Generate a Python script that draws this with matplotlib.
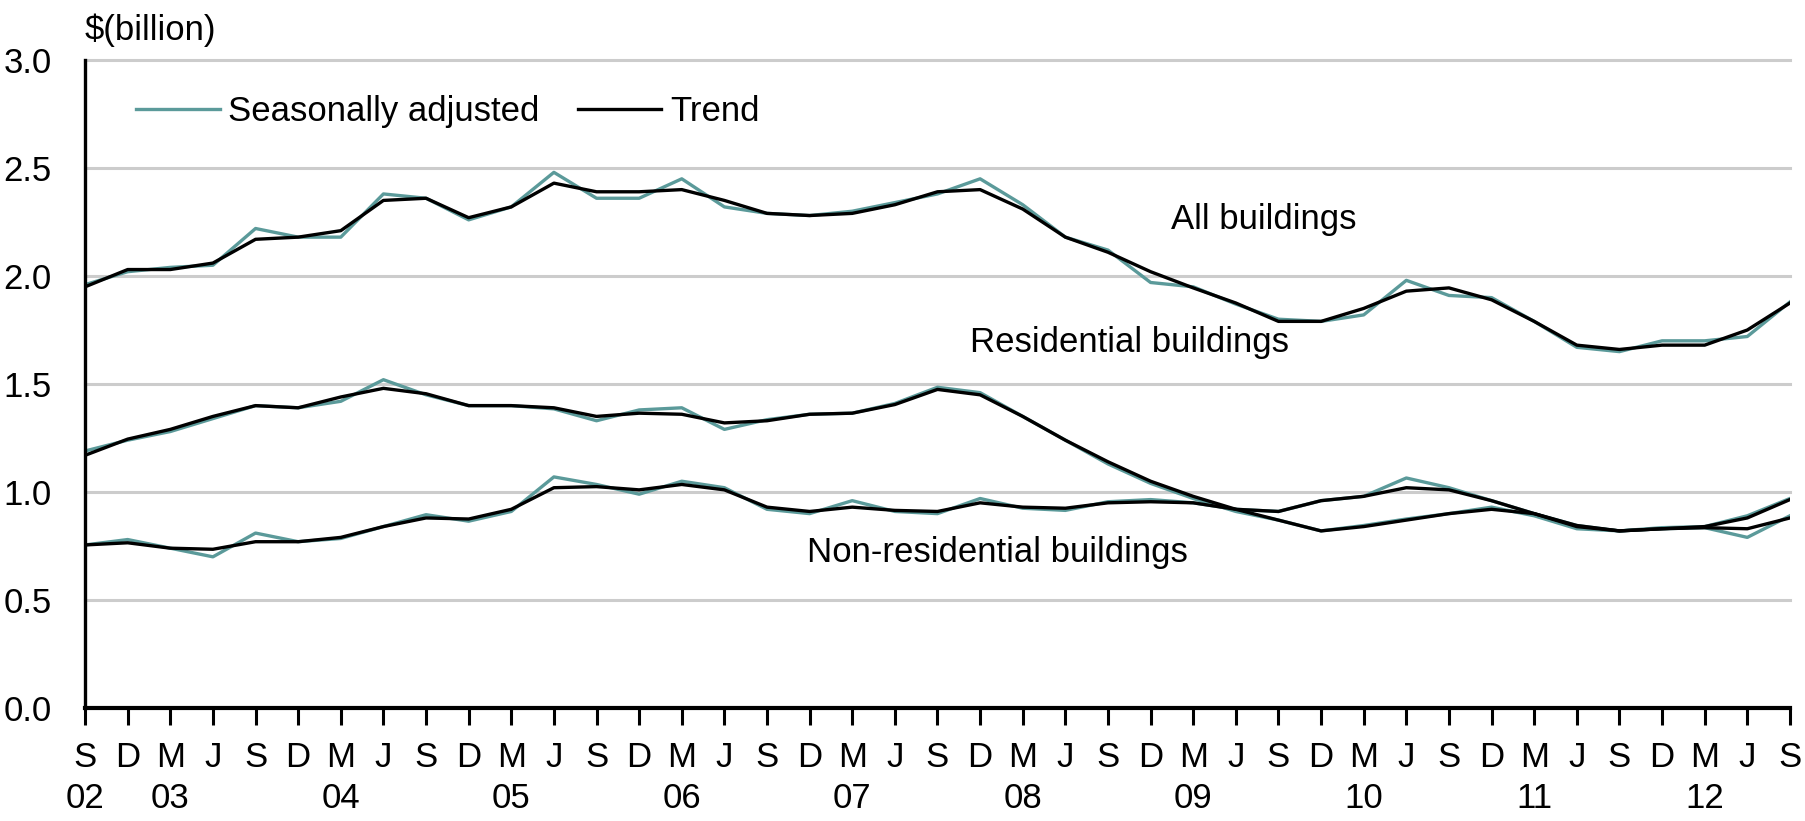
import matplotlib
matplotlib.use('Agg')
import matplotlib.pyplot as plt
from matplotlib import font_manager
import numpy as np

# quarters Sep 2002 .. Sep 2012
months = ['S', 'D', 'M', 'J'] * 10 + ['S']
years = {0: '02', 2: '03', 6: '04', 10: '05', 14: '06', 18: '07',
         22: '08', 26: '09', 30: '10', 34: '11', 38: '12'}

all_sa = [1.96, 2.02, 2.04, 2.05, 2.22, 2.18, 2.18, 2.38, 2.36, 2.26, 2.32,
          2.48, 2.36, 2.36, 2.45, 2.32, 2.29, 2.28, 2.30, 2.34, 2.38, 2.45,
          2.33, 2.18, 2.12, 1.97, 1.95, 1.87, 1.80, 1.79, 1.82, 1.98, 1.91,
          1.90, 1.79, 1.67, 1.65, 1.70, 1.70, 1.72, 1.88]
all_trend = [1.95, 2.03, 2.03, 2.06, 2.17, 2.18, 2.21, 2.35, 2.36, 2.27, 2.32,
             2.43, 2.39, 2.39, 2.40, 2.35, 2.29, 2.28, 2.29, 2.33, 2.39, 2.40,
             2.31, 2.18, 2.11, 2.02, 1.945, 1.875, 1.79, 1.79, 1.85, 1.93, 1.945,
             1.89, 1.79, 1.68, 1.66, 1.68, 1.68, 1.75, 1.875]
res_sa = [1.19, 1.24, 1.28, 1.34, 1.40, 1.39, 1.42, 1.52, 1.45, 1.40, 1.40,
          1.385, 1.33, 1.38, 1.39, 1.29, 1.335, 1.36, 1.365, 1.41, 1.485, 1.46,
          1.35, 1.24, 1.13, 1.04, 0.97, 0.91, 0.87, 0.82, 0.845, 0.875, 0.90,
          0.93, 0.89, 0.83, 0.82, 0.835, 0.84, 0.89, 0.97]
res_trend = [1.17, 1.245, 1.29, 1.35, 1.40, 1.39, 1.44, 1.48, 1.455, 1.40, 1.40,
             1.39, 1.35, 1.365, 1.36, 1.32, 1.33, 1.36, 1.365, 1.405, 1.475, 1.45,
             1.35, 1.24, 1.14, 1.05, 0.98, 0.92, 0.87, 0.82, 0.84, 0.87, 0.90,
             0.92, 0.90, 0.84, 0.82, 0.83, 0.84, 0.88, 0.965]
nonres_sa = [0.755, 0.78, 0.74, 0.70, 0.81, 0.77, 0.785, 0.84, 0.895, 0.865, 0.91,
             1.07, 1.035, 0.99, 1.05, 1.02, 0.92, 0.90, 0.96, 0.91, 0.90, 0.97,
             0.925, 0.915, 0.955, 0.965, 0.95, 0.92, 0.91, 0.96, 0.98, 1.065, 1.02,
             0.96, 0.90, 0.845, 0.82, 0.83, 0.835, 0.79, 0.89]
nonres_trend = [0.755, 0.765, 0.74, 0.735, 0.77, 0.77, 0.79, 0.84, 0.88, 0.875, 0.92,
                1.02, 1.025, 1.01, 1.035, 1.01, 0.93, 0.91, 0.93, 0.915, 0.91, 0.95,
                0.93, 0.925, 0.95, 0.955, 0.95, 0.92, 0.91, 0.96, 0.98, 1.02, 1.01,
                0.96, 0.90, 0.845, 0.82, 0.83, 0.835, 0.83, 0.88]

# condensed font if there is one, else plain Liberation Sans a bit smaller
names = set(f.name for f in font_manager.fontManager.ttflist)
if 'Liberation Sans Narrow' in names:
    plt.rcParams['font.family'] = ['Liberation Sans Narrow', 'DejaVu Sans']
    plt.rcParams['font.size'] = 29
else:
    plt.rcParams['font.family'] = ['Liberation Sans', 'DejaVu Sans']
    plt.rcParams['font.size'] = 25

sa_color = '#5b9a9a'
x = np.arange(len(months))

fig = plt.figure(figsize=(18.06, 8.21), dpi=100)
ax = fig.add_axes([0.0471, 0.1376, 0.9440, 0.7893])

for v in [0.5, 1.0, 1.5, 2.0, 2.5, 3.0]:
    ax.axhline(v, color='#cccccc', lw=2.2, zorder=0, clip_on=False)

ax.plot(x, all_sa, color=sa_color, lw=2.4, label='Seasonally adjusted')
ax.plot(x, res_sa, color=sa_color, lw=2.4)
ax.plot(x, nonres_sa, color=sa_color, lw=2.4)
ax.plot(x, all_trend, color='black', lw=2.4, label='Trend')
ax.plot(x, res_trend, color='black', lw=2.4)
ax.plot(x, nonres_trend, color='black', lw=2.4)

ax.set_xlim(0, 40)
ax.set_ylim(0, 3.0)
ax.set_yticks([0, 0.5, 1.0, 1.5, 2.0, 2.5, 3.0])
ax.set_yticklabels(['%.1f' % v for v in [0, 0.5, 1.0, 1.5, 2.0, 2.5, 3.0]])
ax.tick_params(axis='y', length=0, pad=24)

labels = []
for i, m in enumerate(months):
    if i in years:
        labels.append(m + '\n' + years[i])
    else:
        labels.append(m)
ax.set_xticks(x)
ax.set_xticklabels(labels, linespacing=1.3, va='top')
ax.tick_params(axis='x', length=12, width=2.2, direction='out', pad=12)

for s in ['top', 'right']:
    ax.spines[s].set_visible(False)
ax.spines['left'].set_linewidth(2.4)
ax.spines['bottom'].set_linewidth(3.0)

ax.text(0, 1.046, '$(billion)', transform=ax.transAxes, ha='left', va='center')

ax.text(27.66, 2.26, 'All buildings', ha='center', va='center')
ax.text(24.5, 1.69, 'Residential buildings', ha='center', va='center')
ax.text(21.4, 0.72, 'Non-residential buildings', ha='center', va='center')

ax.legend(loc='center left', bbox_to_anchor=(0.030, 0.92), ncol=2, frameon=False,
          handlelength=2.4, handletextpad=0.25, columnspacing=1.1,
          borderpad=0, borderaxespad=0)

fig.savefig('out.png', dpi=100)
